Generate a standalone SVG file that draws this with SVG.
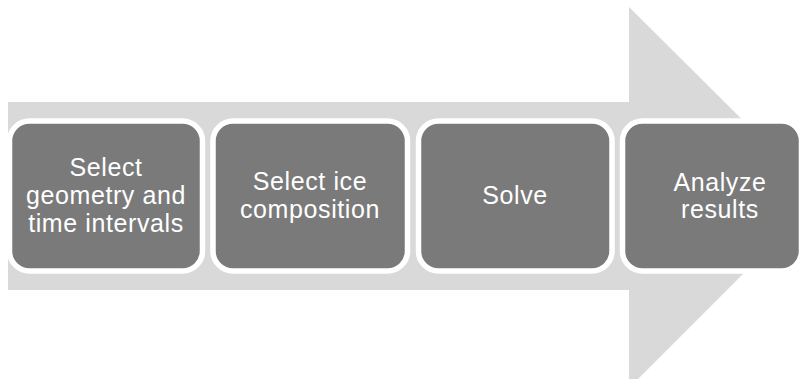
<svg xmlns="http://www.w3.org/2000/svg" width="804" height="379" viewBox="0 0 804 379">
<style>
.arrow{fill:#d9d9d9;stroke:none}
.box{fill:#7a7a7a;stroke:#ffffff;stroke-width:5.5}
.lbl{fill:#ffffff;font-family:"Liberation Sans",Arial,sans-serif;font-size:25px;text-anchor:middle;letter-spacing:0.6px}
</style>
<rect width="804" height="379" fill="#ffffff"/>
<g id="connectors">
<polygon class="arrow" points="8,102 629,102 629,7 820,197 629,388 629,290 8,290"/>
</g>
<g id="node1">
<rect class="box" x="9.5" y="121" width="193" height="150" rx="20"/>
<text class="lbl" x="106" y="176">Select</text>
<text class="lbl" x="106" y="204">geometry and</text>
<text class="lbl" x="106" y="232">time intervals</text>
</g>
<g id="node2">
<rect class="box" x="213" y="121" width="194.5" height="150" rx="20"/>
<text class="lbl" x="310" y="190">Select ice</text>
<text class="lbl" x="310" y="218">composition</text>
</g>
<g id="node3">
<rect class="box" x="418.5" y="121" width="193.5" height="150" rx="20"/>
<text class="lbl" x="515" y="204">Solve</text>
</g>
<g id="node4">
<rect class="box" x="622.5" y="121" width="179" height="150" rx="20"/>
<text class="lbl" x="720" y="191">Analyze</text>
<text class="lbl" x="720" y="218">results</text>
</g>
</svg>
